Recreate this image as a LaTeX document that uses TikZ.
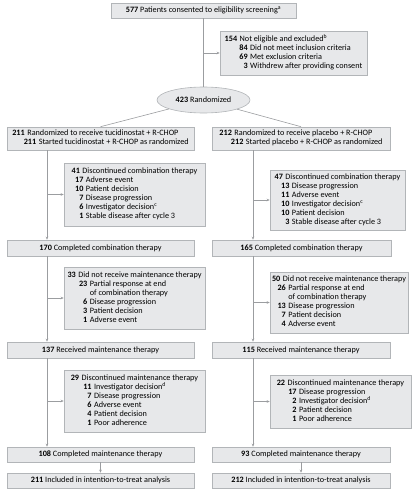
\documentclass[tikz,border=0pt]{standalone}
\usepackage{fontspec}
\setmainfont{Carlito}
\usepackage{xcolor}
\usetikzlibrary{arrows.meta, positioning, shapes.geometric}

\definecolor{boxfill}{RGB}{231,232,234}
\definecolor{boxline}{RGB}{178,181,184}
\definecolor{linkgray}{RGB}{155,157,160}

\newlength{\subw}
\newcommand{\subrow}[2]{\makebox[\subw][r]{\textbf{#1}}\hspace{2.5pt}#2}
\newcommand{\controw}[1]{\hspace{\subw}\hspace{2.5pt}#1}

\begin{document}
\begin{tikzpicture}[
    x=1pt, y=-1pt,
    flowbox/.style={draw=boxline, fill=boxfill, line width=0.6pt, inner sep=2pt, align=center, font=\fontsize{8.2}{9}\selectfont},
    leftbox/.style={flowbox, minimum width=187pt, minimum height=16pt},
    rightbox/.style={flowbox, minimum width=178pt, minimum height=16pt},
    sidebox/.style={flowbox, minimum width=141pt},
    randbox/.style={flowbox, ellipse, inner sep=0pt, minimum width=93pt, minimum height=26pt},
    link/.style={linkgray, line width=0.6pt},
    arrow/.style={link, -{Stealth[length=3pt, width=2.6pt]}}
]
    \useasboundingbox (0,0) rectangle (416,492);

    % Screening and randomization.
    \node[flowbox, minimum width=185pt, minimum height=15pt] (start) at (203.5,10.5) {\textbf{577} Patients consented to eligibility screening\textsuperscript{a}};
    \node[flowbox, minimum width=147pt, minimum height=44pt] (excl) at (293.5,53) {\setlength{\subw}{8pt}\begin{tabular}{@{}r@{\hspace{2.5pt}}l@{}}
        \textbf{154} & Not eligible and excluded\textsuperscript{b}\\
        & \subrow{84}{Did not meet inclusion criteria}\\
        & \subrow{69}{Met exclusion criteria}\\
        & \subrow{3}{Withdrew after providing consent}
    \end{tabular}};
    \node[randbox] (rand) at (203.5,100) {\textbf{423} Randomized};

    % Arms.
    \node[leftbox, minimum height=23pt] (armL) at (100.5,138.5) {\setlength{\subw}{9pt}\begin{tabular}{@{}r@{\hspace{2.5pt}}l@{}}
        \textbf{211} & Randomized to receive tucidinostat + R-CHOP\\
        & \subrow{211}{Started tucidinostat + R-CHOP as randomized}
    \end{tabular}};
    \node[rightbox, minimum height=23pt] (armR) at (301,138.5) {\setlength{\subw}{9pt}\begin{tabular}{@{}r@{\hspace{2.5pt}}l@{}}
        \textbf{212} & Randomized to receive placebo + R-CHOP\\
        & \subrow{212}{Started placebo + R-CHOP as randomized}
    \end{tabular}};

    % Combination therapy.
    \node[sidebox, minimum height=63pt] (discL) at (134.5,194.5) {\setlength{\subw}{1pt}\begin{tabular}{@{}r@{\hspace{2.5pt}}l@{}}
        \textbf{41} & Discontinued combination therapy\\
        & \subrow{17}{Adverse event}\\
        & \subrow{10}{Patient decision}\\
        & \subrow{7}{Disease progression}\\
        & \subrow{6}{Investigator decision\textsuperscript{c}}\\
        & \subrow{1}{Stable disease after cycle 3}
    \end{tabular}};
    \node[sidebox, minimum width=135pt, minimum height=60pt] (discR) at (337.5,200) {\setlength{\subw}{4pt}\begin{tabular}{@{}r@{\hspace{2.5pt}}l@{}}
        \textbf{47} & Discontinued combination therapy\\
        & \subrow{13}{Disease progression}\\
        & \subrow{11}{Adverse event}\\
        & \subrow{10}{Investigator decision\textsuperscript{c}}\\
        & \subrow{10}{Patient decision}\\
        & \subrow{3}{Stable disease after cycle 3}
    \end{tabular}};
    \node[leftbox] (combL) at (100.5,248) {\textbf{170} Completed combination therapy};
    \node[rightbox, minimum width=179pt] (combR) at (301.5,248) {\textbf{165} Completed combination therapy};

    % Entry to maintenance.
    \node[sidebox, minimum height=62pt] (nomL) at (134.5,298) {\setlength{\subw}{9pt}\begin{tabular}{@{}r@{\hspace{2.5pt}}l@{}}
        \textbf{33} & Did not receive maintenance therapy\\
        & \subrow{23}{Partial response at end}\\
        & \controw{of combination therapy}\\
        & \subrow{6}{Disease progression}\\
        & \subrow{3}{Patient decision}\\
        & \subrow{1}{Adverse event}
    \end{tabular}};
    \node[sidebox, minimum width=138pt, minimum height=61pt] (nomR) at (339,302.5) {\setlength{\subw}{3pt}\begin{tabular}{@{}r@{\hspace{2.5pt}}l@{}}
        \textbf{50} & Did not receive maintenance therapy\\
        & \subrow{26}{Partial response at end}\\
        & \controw{of combination therapy}\\
        & \subrow{13}{Disease progression}\\
        & \subrow{7}{Patient decision}\\
        & \subrow{4}{Adverse event}
    \end{tabular}};
    \node[leftbox] (recvL) at (100.5,350) {\textbf{137} Received maintenance therapy};
    \node[rightbox] (recvR) at (301,350) {\textbf{115} Received maintenance therapy};

    % Maintenance therapy.
    \node[sidebox, minimum height=62pt] (dmL) at (134.5,401) {\setlength{\subw}{10pt}\begin{tabular}{@{}r@{\hspace{2.5pt}}l@{}}
        \textbf{29} & Discontinued maintenance therapy\\
        & \subrow{11}{Investigator decision\textsuperscript{d}}\\
        & \subrow{7}{Disease progression}\\
        & \subrow{6}{Adverse event}\\
        & \subrow{4}{Patient decision}\\
        & \subrow{1}{Poor adherence}
    \end{tabular}};
    \node[sidebox, minimum height=53pt] (dmR) at (340.5,401.5) {\setlength{\subw}{9pt}\begin{tabular}{@{}r@{\hspace{2.5pt}}l@{}}
        \textbf{22} & Discontinued maintenance therapy\\
        & \subrow{17}{Disease progression}\\
        & \subrow{2}{Investigator decision\textsuperscript{d}}\\
        & \subrow{2}{Patient decision}\\
        & \subrow{1}{Poor adherence}
    \end{tabular}};
    \node[leftbox, minimum height=15pt] (cmL) at (100.5,454.5) {\textbf{108} Completed maintenance therapy};
    \node[rightbox, minimum height=15pt] (cmR) at (301,454.5) {\textbf{93} Completed maintenance therapy};
    \node[leftbox, minimum height=15pt] (ittL) at (100.5,480.5) {\textbf{211} Included in intention-to-treat analysis};
    \node[rightbox, minimum height=15pt] (ittR) at (301,480.5) {\textbf{212} Included in intention-to-treat analysis};

    % Connectors.
    \coordinate (trunkL) at (47,0);
    \coordinate (trunkR) at (253,0);
    \draw[link] (start) -- (rand);
    \draw[arrow] (start.south |- excl.west) -- (excl.west);
    \draw[link] (rand) -- (armL.north);
    \draw[link] (rand) -- (armR.north);

    \draw[arrow] (armL.south -| trunkL) -- (combL.north -| trunkL);
    \draw[arrow] (discL.west -| trunkL) -- (discL.west);
    \draw[arrow] (combL.south -| trunkL) -- (recvL.north -| trunkL);
    \draw[arrow] (nomL.west -| trunkL) -- (nomL.west);
    \draw[arrow] (recvL.south -| trunkL) -- (cmL.north -| trunkL);
    \draw[arrow] (dmL.west -| trunkL) -- (dmL.west);
    \draw[arrow] (cmL) -- (ittL);

    \draw[arrow] (armR.south -| trunkR) -- (combR.north -| trunkR);
    \draw[arrow] (discR.west -| trunkR) -- (discR.west);
    \draw[arrow] (combR.south -| trunkR) -- (recvR.north -| trunkR);
    \draw[arrow] (nomR.west -| trunkR) -- (nomR.west);
    \draw[arrow] (recvR.south -| trunkR) -- (cmR.north -| trunkR);
    \draw[arrow] (dmR.west -| trunkR) -- (dmR.west);
    \draw[arrow] (cmR) -- (ittR);
\end{tikzpicture}
\end{document}
